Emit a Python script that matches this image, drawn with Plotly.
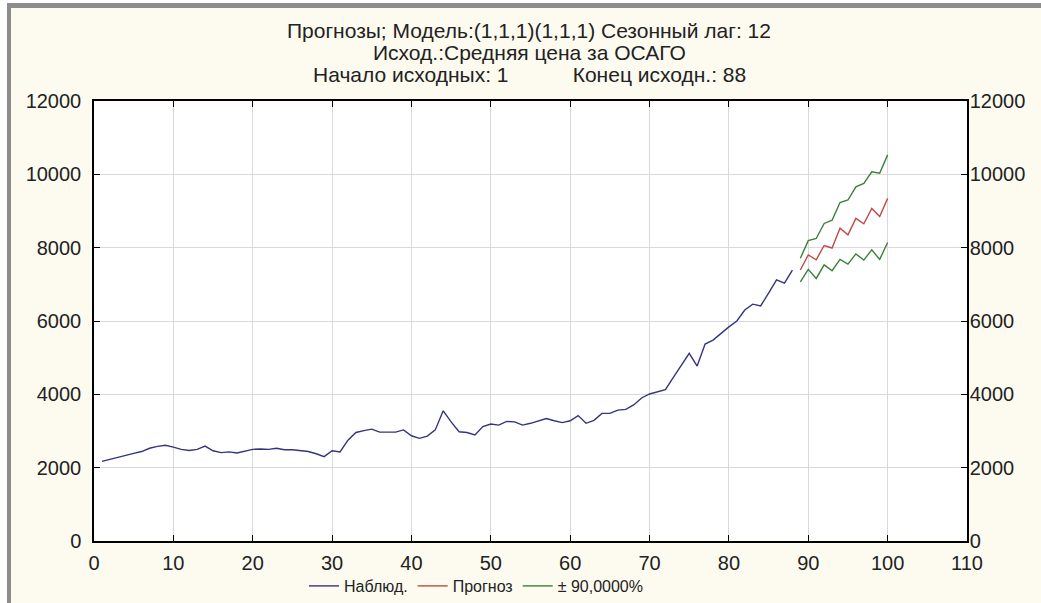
import plotly.graph_objects as go

# ---------------- data ----------------
t_obs = list(range(1, 89))
observed = [
    2170, 2230, 2270, 2350, 2390, 2440, 2530, 2580, 2610, 2560,
    2500, 2470, 2500, 2590, 2460, 2410, 2430, 2400, 2450, 2500,
    2510, 2500, 2530, 2490, 2490, 2470, 2440, 2380, 2300, 2460,
    2430, 2750, 2960, 3010, 3050, 2970, 2970, 2970, 3030, 2870,
    2800, 2860, 3030, 3550, 3250, 2980, 2960, 2890, 3120, 3190,
    3160, 3260, 3250, 3160, 3210, 3280, 3340, 3280, 3230, 3280,
    3420, 3210, 3290, 3480, 3480, 3570, 3590, 3710, 3900, 4010,
    4080, 4130, 4460, 4790, 5120, 4770, 5370, 5480, 5670, 5840,
    6000, 6300, 6460, 6410, 6760, 7120, 7030, 7390,
]
t_fc = list(range(89, 101))
forecast = [7390, 7800, 7670, 8060, 7990, 8530, 8350, 8800, 8650, 9070, 8850, 9345]
lower90 = [7070, 7410, 7160, 7530, 7370, 7680, 7550, 7830, 7660, 7940, 7680, 8140]
upper90 = [7710, 8190, 8250, 8660, 8750, 9230, 9300, 9660, 9750, 10070, 10030, 10530]

x_ticks = list(range(0, 111, 10))
y_ticks = [0, 2000, 4000, 6000, 8000, 10000, 12000]

title_lines = [
    "Прогнозы; Модель:(1,1,1)(1,1,1) Сезонный лаг: 12",
    "Исход.:Средняя цена за ОСАГО",
    "Начало исходных: 1" + "&nbsp;" * 11 + "Конец исходн.: 88",
]
names = ["Наблюд.", "Прогноз", "± 90,0000%"]

# ---------------- layout geometry ----------------
W, H = 1041, 603
ML, MR, MT, MB = 94, 74, 101, 62
PW, PH = W - ML - MR, H - MT - MB


def px_x(px):
    return (px - ML) / PW


def px_y(py):
    return (H - MB - py) / PH


FONT = "Liberation Sans, Arial, sans-serif"
C_OBS = "#34347f"
C_FC = "#c04a48"
C_CI = "#3a803a"

fig = go.Figure()
fig.add_trace(go.Scatter(x=t_obs, y=observed, mode="lines", name=names[0],
                         line=dict(color=C_OBS, width=1.4)))
fig.add_trace(go.Scatter(x=t_fc, y=forecast, mode="lines", name=names[1],
                         line=dict(color=C_FC, width=1.4)))
fig.add_trace(go.Scatter(x=t_fc, y=upper90, mode="lines", name=names[2],
                         legendgroup="ci", line=dict(color=C_CI, width=1.4)))
fig.add_trace(go.Scatter(x=t_fc, y=lower90, mode="lines", name=names[2],
                         legendgroup="ci", showlegend=False,
                         line=dict(color=C_CI, width=1.4)))
# invisible trace so the right-hand axis is drawn
fig.add_trace(go.Scatter(x=t_obs, y=observed, mode="lines", yaxis="y2",
                         showlegend=False, hoverinfo="skip", opacity=0,
                         line=dict(width=0)))

axis_common = dict(showline=True, linecolor="black", linewidth=1.5,
                   ticks="inside", ticklen=6, tickcolor="black", tickwidth=1,
                   zeroline=False, tickformat="d", automargin=False,
                   tickfont=dict(family=FONT, size=20, color="#222"))

fig.update_layout(
    width=W, height=H,
    margin=dict(l=ML, r=MR, t=MT, b=MB, autoexpand=False),
    paper_bgcolor="#fdfbef",
    plot_bgcolor="white",
    font=dict(family=FONT, color="#222"),
    xaxis=dict(range=[0, 110], tickvals=x_ticks, mirror="ticks", ticklabelstandoff=3,
               showgrid=True, gridcolor="#d9d9d9", gridwidth=1, **axis_common),
    yaxis=dict(range=[0, 12000], tickvals=y_ticks, mirror=True, ticklabelstandoff=7,
               showgrid=True, gridcolor="#d9d9d9", gridwidth=1, **axis_common),
    yaxis2=dict(range=[0, 12000], tickvals=y_ticks, overlaying="y", side="right",
                matches="y", showgrid=False, ticklabelstandoff=-3, **axis_common),
    legend=dict(orientation="h", x=px_x(476), xanchor="center",
                y=px_y(586), yanchor="middle", bgcolor="rgba(0,0,0,0)",
                font=dict(family=FONT, size=16, color="#222"),
                itemwidth=30, tracegroupgap=0),
    showlegend=True,
)

# three-line heading
for line, ypx in zip(title_lines, [30, 52, 74]):
    fig.add_annotation(text=line, xref="paper", yref="paper",
                       x=px_x(529), y=px_y(ypx), xanchor="center", yanchor="middle",
                       showarrow=False, font=dict(family=FONT, size=21, color="#222"))

# window frame decoration (left and top grey bars)
fig.add_shape(type="rect", xref="paper", yref="paper",
              x0=px_x(0), x1=px_x(7), y0=px_y(H), y1=px_y(0),
              fillcolor="white", line=dict(width=0), layer="below")
fig.add_shape(type="rect", xref="paper", yref="paper",
              x0=px_x(0), x1=px_x(W), y0=px_y(3), y1=px_y(0),
              fillcolor="white", line=dict(width=0), layer="below")
fig.add_shape(type="rect", xref="paper", yref="paper",
              x0=px_x(7), x1=px_x(11), y0=px_y(H), y1=px_y(3),
              fillcolor="#8c8c8c", line=dict(width=0), layer="below")
fig.add_shape(type="rect", xref="paper", yref="paper",
              x0=px_x(7), x1=px_x(W), y0=px_y(8), y1=px_y(3),
              fillcolor="#8c8c8c", line=dict(width=0), layer="below")

fig.write_html("out.html", config={"displayModeBar": False},
               post_script="document.body.style.margin='0px';")
